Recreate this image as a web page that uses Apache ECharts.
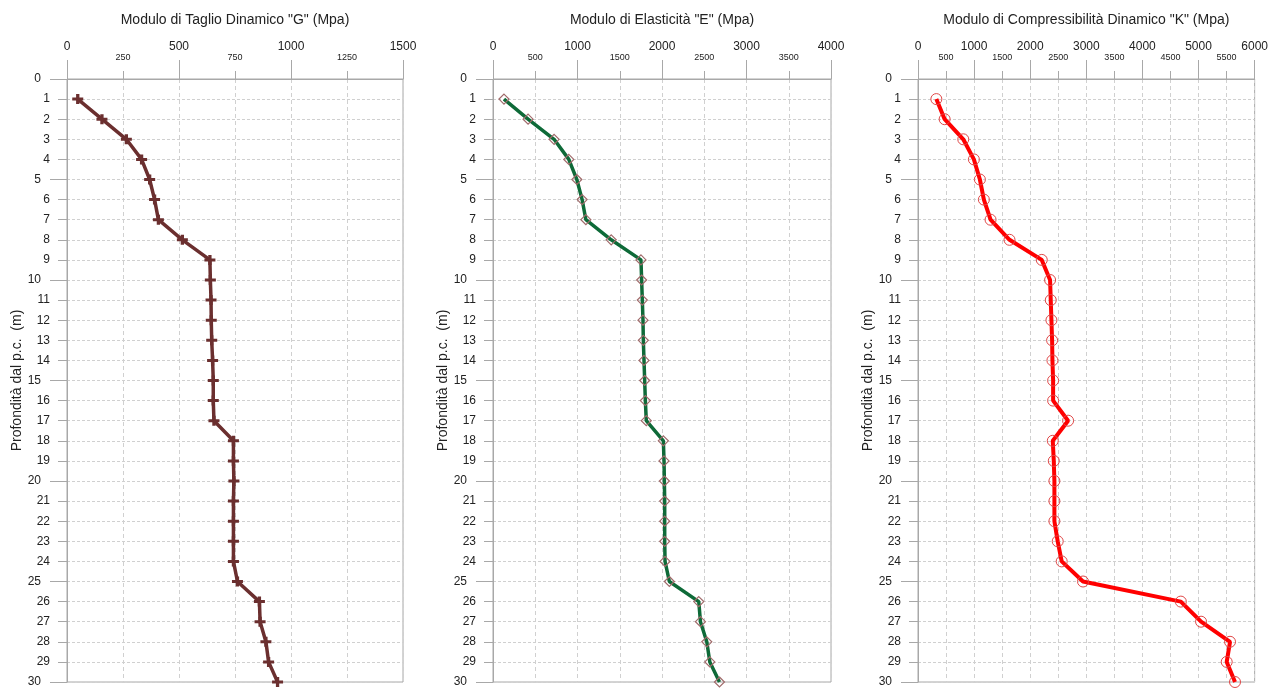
<!DOCTYPE html>
<html><head><meta charset="utf-8">
<script src="https://cdn.jsdelivr.net/npm/echarts@6/dist/echarts.min.js"></script>
<style>html,body{margin:0;padding:0;background:#fff}#c{width:1271px;height:689px}</style>
</head><body><div id="c"></div>
<script>
// ---- data ----
const depths = [1,2,3,4,5,6,7,8,9,10,11,12,13,14,15,16,17,18,19,20,21,22,23,24,25,26,27,28,29,30];
const gValues = [48,156,265,333,369,391,408,515,638,640,643,644,646,650,653,653,656,743,743,745,743,743,743,743,761,859,862,888,900,940];
const eValues = [130,415,723,897,992,1055,1099,1399,1751,1759,1767,1775,1779,1787,1795,1803,1814,2016,2024,2028,2032,2032,2032,2036,2087,2435,2455,2530,2566,2680];
const kValues = [327,475,807,996,1103,1174,1293,1631,2206,2354,2366,2378,2390,2396,2408,2408,2675,2402,2420,2431,2431,2431,2490,2561,2941,4684,5045,5561,5502,5650];
const titles = ['Modulo di Taglio Dinamico "G" (Mpa)', 'Modulo di Elasticità "E" (Mpa)', 'Modulo di Compressibilità Dinamico "K" (Mpa)'];
const yName = 'Profondità dal p.c.  (m)';
const xMax = [1500, 4000, 6000];
const xMajor = [500, 1000, 1000];
const xMinor = [250, 500, 500];
const depthMax = 30, depthMajor = 5, depthMinor = 1;

// ---- layout / style ----
const gridLefts = [67, 493, 918];
const gridWidths = [336, 338, 338];
const axisGray = '#a8a8a8';
const gridGray = '#d0d0d0';
const txt = '#222';
const font = 'Liberation Sans, Arial';

const plusPath = 'path://M3.5,0H6.5V3.5H10V6.5H6.5V10H3.5V6.5H0V3.5H3.5Z';
const seriesStyles = [
  {line:'#6b2f2f', symbol: plusPath, size:[11,10], item:{color:'#6b2f2f'}, lw:3.5},
  {line:'#0e6a38', symbol:'diamond', size:[10,10], item:{color:'rgba(255,255,255,0)', borderColor:'#a06a6a', borderWidth:1.2}, lw:3.5},
  {line:'#ff0000', symbol:'circle', size:11, item:{color:'rgba(255,255,255,0)', borderColor:'#e04848', borderWidth:1}, lw:4}
];
const valueSets = [gValues, eValues, kValues];

const grid = [], xAxis = [], yAxis = [], series = [];
for (let i = 0; i < 3; i++) {
  grid.push({left: gridLefts[i], width: gridWidths[i], top: 79, height: 603, show: true, borderColor: axisGray, borderWidth: 1, containLabel: false});
  const major = xMajor[i];
  xAxis.push({
    gridIndex: i, type: 'value', position: 'top', min: 0, max: xMax[i], interval: major,
    axisLine: {show: true, onZero: false, lineStyle: {color: axisGray}},
    axisTick: {show: true, length: 19, lineStyle: {color: axisGray}},
    axisLabel: {fontSize: 12, color: txt, margin: 26, fontFamily: font, formatter: v => String(v)},
    splitLine: {show: false},
    name: titles[i], nameLocation: 'middle', nameGap: 52,
    nameTextStyle: {fontSize: 14, color: txt, fontFamily: font}
  });
  xAxis.push({
    gridIndex: i, type: 'value', position: 'top', min: 0, max: xMax[i], interval: xMinor[i],
    axisLine: {show: false, onZero: false},
    axisTick: {show: true, length: 8, lineStyle: {color: axisGray}},
    axisLabel: {fontSize: 9, color: txt, margin: 17, fontFamily: font,
      formatter: v => (v % major === 0 ? '' : String(v))},
    splitLine: {show: true, lineStyle: {color: gridGray, type: [4, 3], width: 1}}
  });
  yAxis.push({
    gridIndex: i, type: 'value', position: 'left', inverse: true, min: 0, max: depthMax, interval: depthMajor,
    axisLine: {show: true, onZero: false, lineStyle: {color: axisGray}},
    axisTick: {show: true, length: 17, lineStyle: {color: axisGray}},
    axisLabel: {fontSize: 12, color: txt, margin: 26, fontFamily: font, formatter: v => String(v)},
    splitLine: {show: false},
    name: yName, nameLocation: 'middle', nameGap: 43,
    nameTextStyle: {fontSize: 14, color: txt, fontFamily: font}
  });
  yAxis.push({
    gridIndex: i, type: 'value', position: 'left', inverse: true, min: 0, max: depthMax, interval: depthMinor,
    axisLine: {show: false, onZero: false},
    axisTick: {show: true, length: 9, lineStyle: {color: axisGray}},
    axisLabel: {fontSize: 12, color: txt, margin: 17, fontFamily: font,
      formatter: v => (v % depthMajor === 0 ? '' : String(v))},
    splitLine: {show: true, lineStyle: {color: gridGray, type: [3, 2], width: 1}}
  });
  const st = seriesStyles[i];
  series.push({
    type: 'line', xAxisIndex: 2 * i, yAxisIndex: 2 * i,
    data: valueSets[i].map((v, k) => [v, depths[k]]),
    symbol: st.symbol, symbolSize: st.size, showAllSymbol: true,
    lineStyle: {color: st.line, width: st.lw},
    itemStyle: st.item,
    z: 3
  });
}

const chart = echarts.init(document.getElementById('c'));
chart.setOption({animation: false, backgroundColor: '#fff', grid, xAxis, yAxis, series});
</script>
</body></html>
